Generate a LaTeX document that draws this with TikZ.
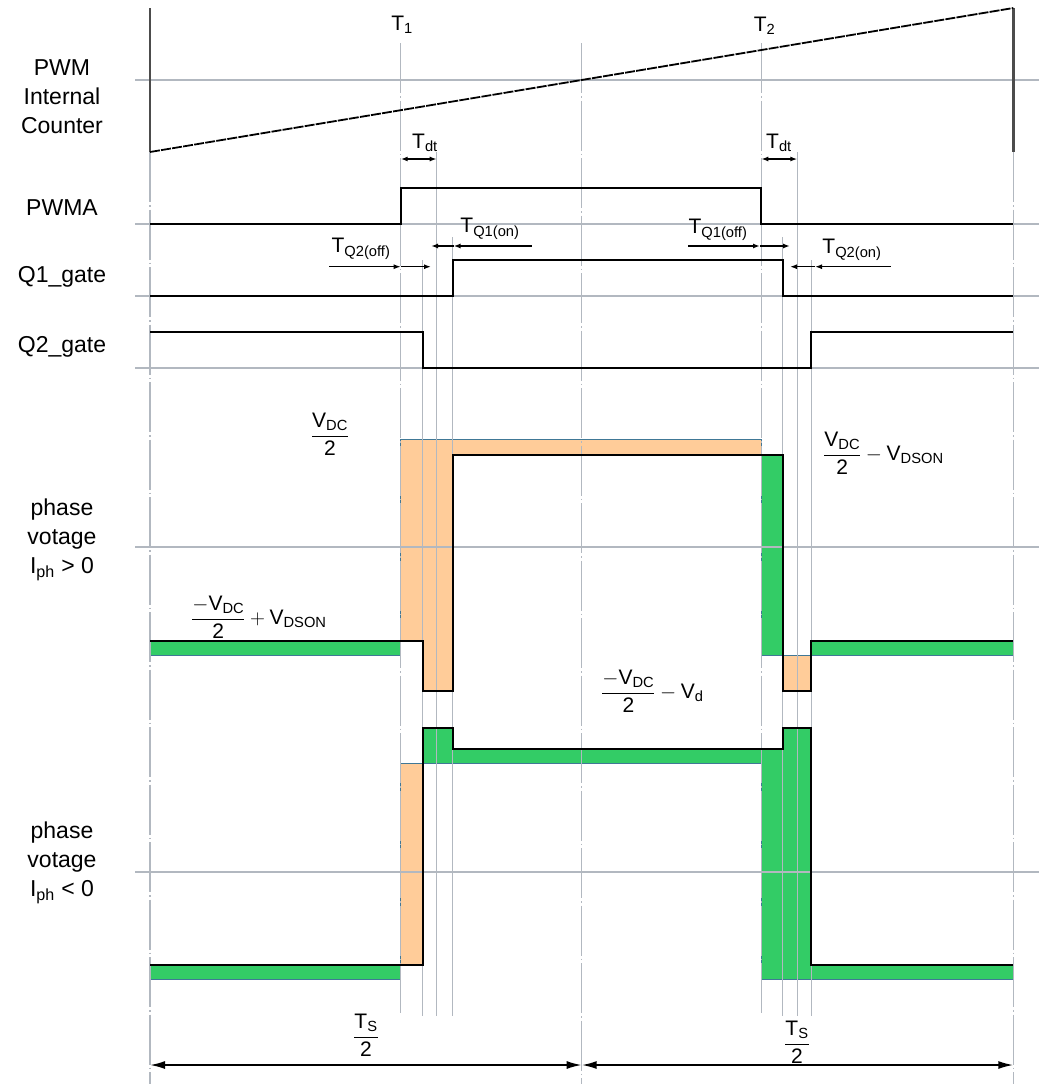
\documentclass[tikz,border=0pt]{standalone}
\usepackage{amsmath}
\usepackage{fontspec}
\setmainfont{Liberation Sans}
\usepackage{tikz}
\usetikzlibrary{arrows.meta,positioning}

\definecolor{gridgray}{RGB}{178,184,192}
\definecolor{peach}{RGB}{255,204,153}
\definecolor{fetgreen}{RGB}{51,204,102}
\definecolor{edgeblue}{RGB}{64,120,150}

\begin{document}
\begin{tikzpicture}[x=1pt,y=-1pt,line join=miter]
\tikzstyle{grid}=[draw=gridgray,line width=1.3pt]
\tikzstyle{dashdot}=[grid,dash pattern=on 50pt off 3pt on 1.5pt off 3pt]
\tikzstyle{wave}=[draw=black,line width=1.8pt]
\tikzstyle{orangefill}=[fill=peach,draw=edgeblue,line width=1pt]
\tikzstyle{greenfill}=[fill=fetgreen,draw=edgeblue,line width=1pt]
\tikzstyle{signal}=[font=\fontsize{23}{29}\selectfont,align=center,inner sep=0pt]
\tikzstyle{lbl}=[font=\fontsize{21}{25}\selectfont,inner sep=0pt]
\tikzstyle{dim}=[line width=1.4pt,{Latex[length=7pt,width=5pt]}-{Latex[length=7pt,width=5pt]}]
\tikzstyle{tip}=[line width=1.4pt,-{Latex[length=7pt,width=5pt]}]
\tikzstyle{half}=[line width=1.8pt,{Latex[length=15pt,width=8pt]}-{Latex[length=15pt,width=8pt]}]

\useasboundingbox (0,0) rectangle (1039,1084);

% colored areas
\path[greenfill] (150,641) rectangle (400.7,655);
\path[orangefill] (400.7,641) -- (400.7,439) -- (761.3,439) -- (761.3,455) -- (452.7,455)
  -- (452.7,691) -- (422.7,691) -- (422.7,641) -- cycle;
\path[greenfill] (761.3,455) rectangle (782.7,655);
\path[orangefill] (782.7,655) rectangle (811.3,691);
\path[greenfill] (811.3,641) rectangle (1013.3,655);

\path[greenfill] (150,965) rectangle (400.7,979.3);
\path[orangefill] (400.7,763.3) rectangle (422.7,965);
\path[greenfill] (422.7,727.7) -- (452.7,727.7) -- (452.7,749.3) -- (782.7,749.3) -- (782.7,727.7)
  -- (811.3,727.7) -- (811.3,965) -- (1013.3,965) -- (1013.3,979.3) -- (761.3,979.3)
  -- (761.3,763.3) -- (422.7,763.3) -- cycle;

% grid
\foreach \y in {80,224,296,368,547,872}
  \draw[grid] (135,\y) -- (1039,\y);
\foreach \x/\a/\b in {150/152/1084, 400.7/43/1013, 581.7/43/1084, 761.3/43/1013, 1013.3/152/1084}
  \draw[dashdot] (\x,\a) -- (\x,\b);
\foreach \x/\a in {422.7/260, 436.7/152, 452.7/237, 782.7/237, 797.3/152, 811.3/260}
  \draw[grid,line width=1.1pt] (\x,\a) -- (\x,1016);

% counter
\draw[draw=black!70,line width=2.5pt] (150,8) -- (150,152);
\draw[draw=black!70,line width=2.5pt] (1013.3,8) -- (1013.3,152);
\draw[wave,dash pattern=on 10pt off 1.2pt] (150,152) -- (1013.3,8);

% gate signals
\draw[wave] (150,224) -- (400.7,224) -- (400.7,188) -- (761.3,188) -- (761.3,224) -- (1013.3,224);
\draw[wave] (150,296) -- (452.7,296) -- (452.7,260) -- (782.7,260) -- (782.7,296) -- (1013.3,296);
\draw[wave] (150,332) -- (422.7,332) -- (422.7,368) -- (811.3,368) -- (811.3,332) -- (1013.3,332);

% phase voltages
\draw[wave] (150,641) -- (422.7,641) -- (422.7,691) -- (452.7,691) -- (452.7,455) -- (782.7,455)
  -- (782.7,691) -- (811.3,691) -- (811.3,641) -- (1013.3,641);
\draw[wave] (150,965) -- (422.7,965) -- (422.7,727.7) -- (452.7,727.7) -- (452.7,749.3) -- (782.7,749.3)
  -- (782.7,727.7) -- (811.3,727.7) -- (811.3,965) -- (1013.3,965);

% signal names
\node[signal] (cnt) at (62,97) {PWM\\Internal\\Counter};
\node[signal] (pwma) at (62,208) {PWMA};
\node[signal] (qone) at (62,277) {Q1\_gate};
\node[signal] (qtwo) at (62,347) {Q2\_gate};
\node[signal] (phpos) at (62,540) {phase\\votage\\I\textsubscript{ph} > 0};
\node[signal] (phneg) at (62,863) {phase\\votage\\I\textsubscript{ph} < 0};

% instants
\node[lbl] (tone) at (402,25) {T\textsubscript{1}};
\node[lbl] (ttwo) at (764.5,26) {T\textsubscript{2}};

% dead times
\coordinate (dtA) at (400.7,159);
\coordinate (dtB) at (436.7,159);
\coordinate (dtC) at (761.3,159);
\coordinate (dtD) at (797.3,159);
\draw[dim] (dtA) -- (dtB);
\draw[dim] (dtC) -- (dtD);
\node[lbl] (tdtA) at (425,143) {T\textsubscript{dt}};
\node[lbl] (tdtB) at (779,143) {T\textsubscript{dt}};

\coordinate (offA) at (329,266.7);
\coordinate (offB) at (400.7,266.7);
\coordinate (offC) at (431,266.7);
\draw[tip] (offA) -- (offB);
\draw[tip] (offB) -- (offC);
\node[lbl] (tqtwooff) at (361,249) {T\textsubscript{Q2(off)}};

\coordinate (onA) at (531.7,246);
\coordinate (onB) at (453.5,246);
\coordinate (onC) at (431,246);
\draw[tip] (onA) -- (onB);
\draw[tip] (onB) -- (onC);
\node[lbl] (tqoneon) at (490,229) {T\textsubscript{Q1(on)}};

\coordinate (offD) at (688,246);
\coordinate (offE) at (760,246);
\coordinate (offF) at (790,246);
\draw[tip] (offD) -- (offE);
\draw[tip] (offE) -- (offF);
\node[lbl] (tqoneoff) at (718,230) {T\textsubscript{Q1(off)}};

\coordinate (onD) at (890.7,266.7);
\coordinate (onE) at (815,266.7);
\coordinate (onF) at (790,266.7);
\draw[tip] (onD) -- (onE);
\draw[tip] (onE) -- (onF);
\node[lbl] (tqtwoon) at (852,250) {T\textsubscript{Q2(on)}};

% voltage levels
\node[lbl] (vhigh) at (330,434) {$\dfrac{\mathrm{V_{DC}}}{\mathrm{2}}$};
\node[lbl,anchor=west] (vlowon) at (191,617) {$\dfrac{-\mathrm{V_{DC}}}{\mathrm{2}}+\mathrm{V_{DSON}}$};
\node[lbl,anchor=west] (vhighon) at (823,453) {$\dfrac{\mathrm{V_{DC}}}{\mathrm{2}}-\mathrm{V_{DSON}}$};
\node[lbl,anchor=west] (vlowd) at (601,691) {$\dfrac{-\mathrm{V_{DC}}}{\mathrm{2}}-\mathrm{V_d}$};

% half periods
\coordinate (sA) at (150,1065);
\coordinate (sM) at (581.7,1065);
\coordinate (sB) at (1013.3,1065);
\draw[half] (sA) -- (sM);
\draw[half] (sM) -- (sB);
\node[lbl] (tsA) at (366,1035) {$\dfrac{\mathrm{T_S}}{\mathrm{2}}$};
\node[lbl] (tsB) at (797,1042) {$\dfrac{\mathrm{T_S}}{\mathrm{2}}$};
\end{tikzpicture}
\end{document}
